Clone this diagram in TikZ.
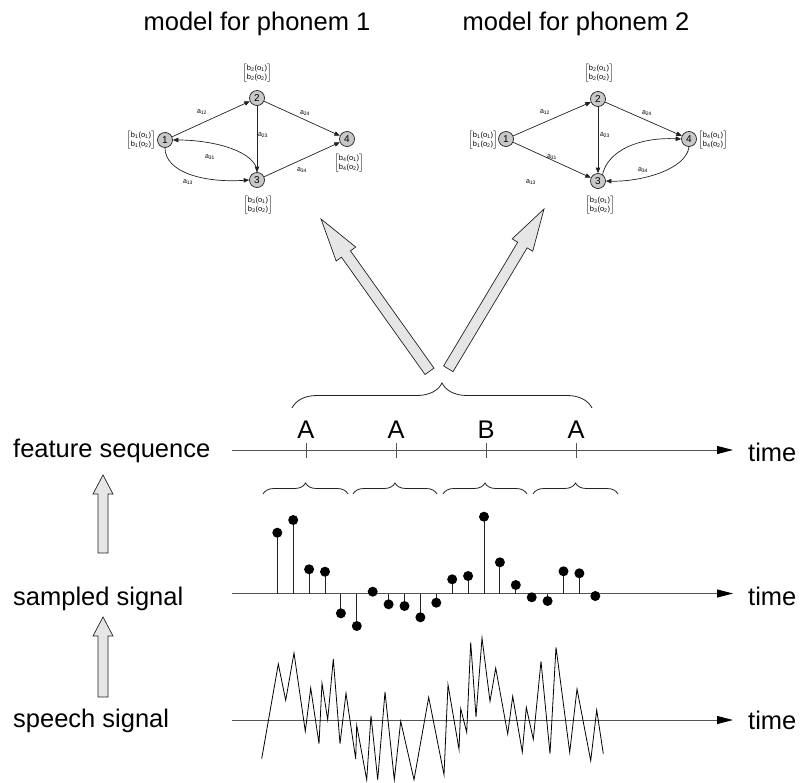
\documentclass[tikz,border=0pt]{standalone}
\usepackage{fontspec}
\setmainfont{Liberation Sans}
\usetikzlibrary{arrows.meta,calc,decorations.pathreplacing}
\definecolor{axc}{HTML}{555555}
\definecolor{arrfill}{HTML}{E6E6E6}
\definecolor{nodefill}{HTML}{C8C8C8}
\definecolor{linec}{HTML}{222222}
\newcommand\bvec[1]{$\left[\begin{tabular}{@{}c@{}}b\textsubscript{#1}(o\textsubscript{1})\\b\textsubscript{#1}(o\textsubscript{2})\end{tabular}\right]$}
\newcommand\blockarrow[5]{%
  \coordinate (ba-b) at ($(#2)!#5!(#1)$);
  \filldraw[bigarrow] ($(#1)!#3!90:(#2)$) -- ($(ba-b)!#3!90:(#2)$) -- ($(ba-b)!#4!90:(#2)$) -- (#2)
    -- ($(ba-b)!#4!-90:(#2)$) -- ($(ba-b)!#3!-90:(#2)$) -- ($(#1)!#3!-90:(#2)$) -- cycle;}
\begin{document}
\begin{tikzpicture}[x=1pt,y=-1pt,
  big/.style={font=\fontsize{25.5}{30}\selectfont, inner sep=0pt},
  st/.style={circle, draw=linec, fill=nodefill, minimum size=15pt, inner sep=0pt, line width=0.7pt, font=\fontsize{10}{12}\selectfont},
  tr/.style={-{Triangle[length=5.5pt,width=4.5pt]}, line width=0.7pt, linec},
  lab/.style={font=\fontsize{7}{8}\selectfont, inner sep=0pt},
  bv/.style={inner sep=0pt, font=\fontsize{7.5}{9.5}\selectfont},
  bigarrow/.style={fill=arrfill, draw=linec, line width=0.7pt, line join=miter},
  axis/.style={draw=axc, line width=1pt, -{Triangle[length=16pt,width=8pt,color=black]}},
  tick/.style={draw=axc, line width=1pt},
  brc/.style={draw=linec, line width=0.8pt, decorate, decoration={brace, amplitude=#1}},
  stem/.style={draw=linec, line width=0.9pt},
]
\useasboundingbox (0,0) rectangle (800,782);

% titles
\node[big, anchor=base] (t1) at (257,30) {model for phonem 1};
\node[big, anchor=base] (t2) at (576,30) {model for phonem 2};

% ---- model 1 ----
\node[st] (a1) at (165,140) {1};
\node[st] (a2) at (257,98) {2};
\node[st] (a3) at (257,180) {3};
\node[st] (a4) at (347,139) {4};
\node[bv] (ab1) at (141,140) {\bvec{1}};
\node[bv] (ab2) at (257,73) {\bvec{2}};
\node[bv] (ab3) at (258,205) {\bvec{3}};
\node[bv] (ab4) at (349,163) {\bvec{4}};
\draw[tr] (a1) -- (a2);
\draw[tr] (a2) -- (a3);
\draw[tr] (a2) -- (a4);
\draw[tr] (a3) -- (a4);
\draw[tr] (a3.north) .. controls (257,152) and (215,140) .. (a1.east);
\draw[tr] (a1.south) .. controls (165,172) and (203,183) .. (a3.west);
\node[lab] (la12) at (202,112) {a\textsubscript{12}};
\node[lab] (la23) at (263,135) {a\textsubscript{23}};
\node[lab] (la24) at (305,113) {a\textsubscript{24}};
\node[lab] (la34) at (302,170) {a\textsubscript{34}};
\node[lab] (la31) at (210,157) {a\textsubscript{31}};
\node[lab] (la13) at (188,182) {a\textsubscript{13}};

% ---- model 2 ----
\node[st] (b1) at (506,139) {1};
\node[st] (b2) at (598,99) {2};
\node[st] (b3) at (598,181) {3};
\node[st] (b4) at (689,139) {4};
\node[bv] (bb1) at (483,140) {\bvec{1}};
\node[bv] (bb2) at (599,73) {\bvec{2}};
\node[bv] (bb3) at (600,205) {\bvec{3}};
\node[bv] (bb4) at (713,140) {\bvec{4}};
\draw[tr] (b1) -- (b2);
\draw[tr] (b1) -- (b3);
\draw[tr] (b2) -- (b3);
\draw[tr] (b2) -- (b4);
\draw[tr] (b3.55) .. controls (608,150) and (640,137) .. (b4.west);
\draw[tr] (b4.south) .. controls (686,170) and (640,182) .. (b3.east);
\node[lab] (lb12) at (545,112) {a\textsubscript{12}};
\node[lab] (lb23) at (605,135) {a\textsubscript{23}};
\node[lab] (lb24) at (647,113) {a\textsubscript{24}};
\node[lab] (lb34) at (643,170) {a\textsubscript{34}};
\node[lab] (lb31) at (552,157) {a\textsubscript{31}};
\node[lab] (lb13) at (531,182) {a\textsubscript{13}};

% ---- big arrows ----
\coordinate (LT) at (429.5,371.3);
\coordinate (LP) at (321,219);
\coordinate (RT) at (448.3,368.8);
\coordinate (RP) at (544,209);
\blockarrow{LT}{LP}{5.5pt}{12pt}{43pt}
\blockarrow{RT}{RP}{5.5pt}{12pt}{42pt}

% big brace
\coordinate (B0) at (292,408);
\coordinate (B1) at (592,408);
\draw[brc=25pt] (B0) -- (B1);

% ---- feature sequence ----
\coordinate (fa0) at (232,450);
\coordinate (fa1) at (733,450);
\draw[axis] (fa0) -- (fa1);
\foreach \x/\t [count=\i] in {306/A,396/A,486/B,576/A}{
  \draw[tick] (\x,443) -- (\x,458);
  \node[big, anchor=base] (sym\i) at (\x,438) {\t};
}
\foreach \a/\b in {263/348,353/437,443/527,533/618}{
  \draw[brc=11pt] (\a,494) -- (\b,494);
}

% ---- sampled signal ----
\coordinate (sa0) at (232,593.5);
\coordinate (sa1) at (733,593.5);
\draw[axis] (sa0) -- (sa1);
\foreach \y [count=\i from 0] in {532.7,520,569.3,571.7,613.3,626,591.7,604.3,606,617.3,602.7,579.3,576,516.7,562.3,585,597.3,601,571.3,573.3,596}{
  \pgfmathsetmacro\xx{277.3+15.9*\i}
  \draw[stem] (\xx,593.5) -- (\xx,\y);
  \fill[black] (\xx,\y) circle[radius=5pt];
}

% ---- speech signal ----
\coordinate (pa0) at (232,720);
\coordinate (pa1) at (733,720);
\draw[axis] (pa0) -- (pa1);
\draw[black, line width=0.8pt, line join=miter] (261.7,758.7) -- (278.3,664) -- (285.7,700.3) -- (294,653) -- (305.3,731.3) -- (310.7,688) -- (319,743.7) -- (322,683.3) -- (327.7,719.7) -- (333.3,659) -- (340,743.7) -- (346,693.3) -- (355.7,759) -- (356.7,725.3) -- (366.7,779.7) -- (371,715.7) -- (377.7,779.7) -- (385,692) -- (394.3,779.7) -- (400.7,721.3) -- (414,779.7) -- (428.7,697.3) -- (444,774.7) -- (448,684.7) -- (459,749.3) -- (460.7,708.7) -- (466.7,732.3) -- (470.7,642.3) -- (476,717) -- (482,638) -- (490,701.3) -- (495.7,668) -- (507.7,734) -- (512.7,696.3) -- (522.3,752) -- (526.3,707.3) -- (533.3,739.3) -- (541,661.3) -- (550,753.7) -- (556,647.3) -- (569.7,752.3) -- (577,689) -- (590.7,760.7) -- (596.7,710) -- (603.3,753.7);

% ---- left labels and arrows ----
\node[big, anchor=base west] (lf) at (13,457) {feature sequence};
\node[big, anchor=base west] (ls) at (13,605) {sampled signal};
\node[big, anchor=base west] (lp) at (13,727) {speech signal};
\coordinate (u0) at (103,553);
\coordinate (u1) at (103,475);
\coordinate (d0) at (103,697);
\coordinate (d1) at (103,617);
\blockarrow{u0}{u1}{5pt}{10pt}{19pt}
\blockarrow{d0}{d1}{5pt}{10pt}{19pt}

\node[big, anchor=base west] (tm1) at (748,461) {time};
\node[big, anchor=base west] (tm2) at (748,605) {time};
\node[big, anchor=base west] (tm3) at (748,729) {time};
\end{tikzpicture}
\end{document}
